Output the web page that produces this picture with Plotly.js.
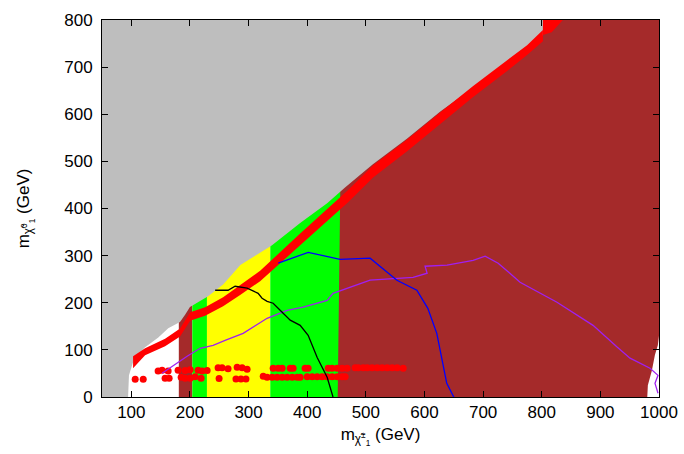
<!DOCTYPE html>
<html>
<head>
<meta charset="utf-8">
<script src="https://cdn.plot.ly/plotly-3.0.1.min.js"></script>
<style>html,body{margin:0;padding:0;background:#fff}</style>
</head>
<body>
<div id="chart" style="width:684px;height:454px"></div>
<script>
// Vertical scan bands in chargino mass (GeV): edges and fill colours
const bandEdges = [181, 204, 229, 337, 460];
const bandColors = ['#a52a2a', '#00ff00', '#ffff00', '#00ff00'];

// Large brown region outline (chargino mass, neutralino mass)
const brownX = [452, 460, 1000, 1000, 998, 993, 988, 981, 980];
const brownY = [0, 800, 800, 130, 110, 89, 57, 25, 0];

// Lower edge of the grey (unscanned) region
const grayX = [94.5, 96, 105, 123, 146, 163, 183, 192, 200, 231, 257, 286, 340, 388, 434, 465, 512, 570, 627, 683, 724, 751, 775, 802, 802];
const grayY = [0, 46, 82, 105, 126, 146, 159, 175, 191, 214, 239, 280, 322, 369, 411, 445, 494, 548, 606, 656, 690, 719, 743, 768, 800];

// Red diagonal band: centre line and half-width (GeV)
const ridgeX = [103, 123.5, 157.6, 183.2, 200.3, 225.9, 256.6, 285.6, 319.7, 388, 469.8, 512.4, 570.4, 626.7, 683, 741, 775, 802];
const ridgeY = [73.7, 96, 115.6, 137.1, 170.6, 181.6, 202.1, 226.7, 256.8, 334.4, 426, 479, 534, 591, 648.2, 703.2, 736.1, 766.7];
const ridgeHw = [12.7, 7.5, 8, 8.5, 9, 9, 9.5, 10.5, 11, 12.5, 13, 13, 12.5, 12.5, 11.5, 11.5, 10.5, 12];

// Red patch at the top edge
const capX = [802, 802, 817, 831, 836];
const capY = [800, 768, 774, 793, 800];

// Red points at low neutralino mass
const dotX = [145.7, 152.5, 162.8, 179.8, 191.8, 200.3, 213.9, 220.8, 229.3, 248, 254.8, 265, 280.5, 289, 297.5,
  341.9, 350.5, 357.3, 371, 376, 396.4, 401.5, 435.7, 442.5, 451, 459.6, 468.1, 481.7, 486.8, 495.4, 502.2, 510.7, 519.3, 527.8, 536.3, 544.9, 553.4, 563.7,
  106.6, 120.3, 157.6, 164.5, 185, 191.8, 200.3, 208.8, 219, 249.7, 278.5, 287, 295.5, 325,
  331.6, 340.2, 348.7, 357.3, 365.8, 374.4, 382.9, 388, 400, 408.5, 417, 425.4, 434, 442.5, 451, 459.6, 464.7];
const dotY = [55, 57, 55, 57, 56, 58, 57, 55, 56, 62, 62, 60, 63, 62, 59,
  61, 61, 61, 61, 61, 61, 61, 61, 61, 61, 61, 61, 62, 62, 62, 62, 62, 62, 62, 62, 62, 62, 61,
  37.6, 37.6, 40, 40, 42, 40, 40, 43, 40, 39, 38, 38, 38, 44,
  42, 42, 42, 42, 42, 42, 42, 42, 43, 43, 43, 43, 43, 43, 43, 43, 43];

// Exclusion contours
const blackX = [243, 265, 277, 297.5, 316.3, 323, 331.6, 341.9, 357.3, 371, 388, 401.6, 417, 434, 444];
const blackY = [226.5, 226.5, 235, 231, 220, 209.6, 203, 199, 180, 163, 152, 131, 84, 42, 0];
const blueX = [350.6, 401.8, 456, 507.3, 553, 587, 605.7, 621, 638, 650];
const blueY = [284, 307, 292, 294.5, 247.8, 226.5, 188, 135, 29, 0];
const purpleX = [152.5, 169.6, 183.2, 195.2, 217.3, 239.5, 259.9, 290.7, 331.6, 365.7, 393, 434, 444, 473, 507.3, 580.6, 604.5, 601, 638.6, 683, 703.5, 725.7, 763, 826, 887.5, 928.5, 950.6, 984.7, 998.3, 993.2, 998.3];
const purpleY = [50.3, 65, 78, 86.4, 103.4, 109.8, 120, 135, 167, 184, 190.5, 205, 220, 233, 248, 254, 262.7, 277.5, 279.7, 290, 298.8, 284, 243.6, 201, 152, 106, 82.5, 61, 46, 29, 7.9];

const traces = [];
function poly(x, y, color) {
  traces.push({x: x, y: y, type: 'scatter', mode: 'lines', fill: 'toself',
    fillcolor: color, line: {width: 0, color: color}, hoverinfo: 'skip'});
}

for (let i = 0; i < bandColors.length; i++) {
  const a = bandEdges[i], b = bandEdges[i + 1];
  poly([a, b, b, a], [0, 0, 800, 800], bandColors[i]);
}
poly(brownX, brownY, '#a52a2a');
poly([50].concat(grayX, [50]), [0].concat(grayY, [800]), '#bebebe');

const upper = ridgeY.map((v, i) => v + ridgeHw[i]);
const lower = ridgeY.map((v, i) => v - ridgeHw[i]);
poly(ridgeX.concat(ridgeX.slice().reverse()), upper.concat(lower.slice().reverse()), '#ff0000');
poly(capX, capY, '#ff0000');

traces.push({x: dotX, y: dotY, type: 'scatter', mode: 'markers',
  marker: {color: '#ff0000', size: 7}, hoverinfo: 'skip'});

function curve(x, y, color) {
  traces.push({x: x, y: y, type: 'scatter', mode: 'lines',
    line: {color: color, width: 1.3}, hoverinfo: 'skip'});
}
curve(purpleX, purpleY, '#a020f0');
curve(blueX, blueY, '#0000ff');
curve(blackX, blackY, '#000000');

const FONT = 'Liberation Sans, Arial, sans-serif';
const axisCommon = {
  showgrid: false, zeroline: false, showline: true, mirror: 'ticks',
  linecolor: '#000', linewidth: 1, ticks: 'inside', ticklen: 6, tickcolor: '#000',
  tickfont: {family: FONT, size: 17, color: '#000'}
};

const layout = {
  width: 684, height: 454,
  margin: {l: 102, r: 25, t: 20, b: 57},
  paper_bgcolor: '#fff', plot_bgcolor: '#fff',
  showlegend: false,
  font: {family: FONT, size: 17, color: '#000'},
  xaxis: Object.assign({}, axisCommon, {
    range: [50, 1000], tickvals: [100, 200, 300, 400, 500, 600, 700, 800, 900, 1000],
    title: {text: 'm<sub>χ̃<sup>±</sup><sub>1</sub></sub> (GeV)', standoff: 6,
      font: {family: FONT, size: 17, color: '#000'}}
  }),
  yaxis: Object.assign({}, axisCommon, {
    range: [0, 800], tickvals: [0, 100, 200, 300, 400, 500, 600, 700, 800],
    ticklabelstandoff: 5,
    title: {text: 'm<sub>χ̃<sup>0</sup><sub>1</sub></sub> (GeV)', standoff: 30,
      font: {family: FONT, size: 17, color: '#000'}}
  })
};

Plotly.newPlot('chart', traces, layout, {staticPlot: true, displayModeBar: false});
</script>
</body>
</html>
